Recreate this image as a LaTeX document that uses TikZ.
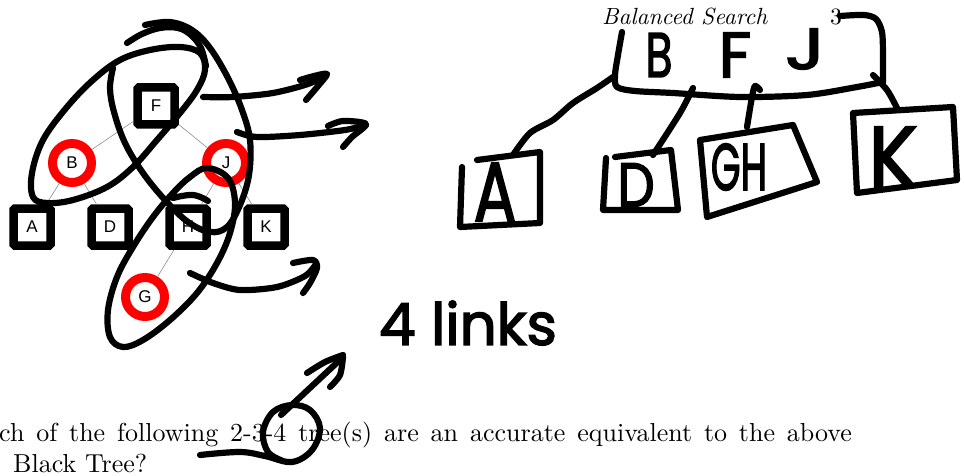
\documentclass[tikz,border=0pt]{standalone}
\usepackage{fontspec}
\usepackage{graphicx}
\newfontfamily\treefont{Liberation Sans}
\newfontfamily\handfont[FakeBold=2.5]{Poppins}
% handwritten marker letters: size, horizontal squeeze, text
\newcommand\markertext[3]{\fontsize{#1}{#1}\selectfont\scalebox{#2}[1]{#3}}
% page text: 10pt design size, enlarged
\newcommand\pagetext[2]{\scalebox{#1}{\fontsize{10}{12}\selectfont #2}}
\begin{document}
\begin{tikzpicture}[x=1pt,y=-1pt,
  rbblack/.style={draw=black, line width=8.5pt, fill=white, rounded corners=1.5pt,
    minimum size=37pt, inner sep=0pt, font=\treefont\fontsize{17}{17}\selectfont},
  rbred/.style={circle, draw=red, line width=9pt, fill=white,
    minimum size=39pt, inner sep=0pt, font=\treefont\fontsize{17}{17}\selectfont},
  treelink/.style={draw=black!45, line width=0.6pt},
  ink/.style={draw=black, line width=6.2pt, line cap=round, line join=round},
  marker/.style={inner sep=0pt, font=\handfont},
  bodytext/.style={inner sep=0pt, anchor=base west}
]
\useasboundingbox (0,0) rectangle (964,476);

% page text
\node[inner sep=0pt, anchor=base west] (head) at (602,25) {\pagetext{2.34}{\itshape Balanced Search}};
\node[inner sep=0pt, anchor=base west] (page) at (830,25) {\pagetext{2.34}{3}};
\node[bodytext] (q1) at (-1,441) {\pagetext{2.6}{\makebox[328pt][s]{ch of the following 2-3-4 tree(s) are an accurate equivalent to the above}}};
\node[bodytext] (q2) at (13,472) {\pagetext{2.6}{Black Tree?}};

% red-black tree
\node[rbblack] (F) at (156,106) {F};
\node[rbred]   (B) at (72,163)  {B};
\node[rbred]   (J) at (226,163) {J};
\node[rbblack] (A) at (32,227)  {A};
\node[rbblack] (D) at (110,227) {D};
\node[rbblack] (H) at (188,227) {H};
\node[rbblack] (K) at (266,227) {K};
\node[rbred]   (G) at (145,297) {G};
\draw[treelink] (F) -- (B);
\draw[treelink] (F) -- (J);
\draw[treelink] (B) -- (A);
\draw[treelink] (B) -- (D);
\draw[treelink] (J) -- (H);
\draw[treelink] (J) -- (K);
\draw[treelink] (H) -- (G);

% loop round B and F
\draw[ink] plot[smooth cycle, tension=0.6] coordinates {(33,197) (32,173) (43,140) (67,107) (93,80) (120,60) (150,50) (180,47) (200,53) (205,70) (197,90) (180,113) (157,140) (133,167) (107,187) (73,200) (47,203)};
% loop round F and J, down to H
\draw[ink] plot[smooth, tension=0.6] coordinates {(145,25) (170,22) (192,30) (210,48) (228,78) (242,110) (250,140) (249,175) (240,205) (227,227) (210,232) (188,222) (165,200) (143,173) (125,143) (114,112) (110,88) (113,68)};
\draw[ink] plot[smooth, tension=0.6] coordinates {(127,43) (142,34) (160,28) (178,28) (191,35) (201,48) (206,66)};
% loop round H and G
\draw[ink] plot[smooth cycle, tension=0.6] coordinates {(207,168) (228,178) (235,203) (230,233) (217,263) (197,293) (170,320) (143,340) (123,347) (110,337) (108,310) (117,277) (133,247) (153,217) (173,193) (190,177)};
\draw[ink] plot[smooth, tension=0.7] coordinates {(173,198) (193,195) (208,201)};

% three arrows to the right
\draw[ink] plot[smooth] coordinates {(203,97) (233,97) (273,93) (308,84) (326,75)};
\draw[ink] plot[smooth] coordinates {(300,80) (314,76) (327,74) (318,86) (306,100)};
\draw[ink] plot[smooth] coordinates {(237,132) (257,137) (300,135) (345,130) (366,125)};
\draw[ink] plot[smooth] coordinates {(328,126) (343,121) (366,124) (352,137) (343,147)};
\draw[ink] plot[smooth] coordinates {(190,273) (213,283) (240,290) (277,287) (305,276) (316,264)};
\draw[ink] plot[smooth] coordinates {(293,263) (313,260) (317,268) (310,283) (303,293)};

% 2-3-4 tree: top node
\draw[ink] plot[smooth, tension=0.5] coordinates {(622,32) (618,55) (615,75) (617,87) (635,91) (673,93) (740,97) (807,95) (857,87) (883,82)};
\draw[ink] plot[smooth, tension=0.5] coordinates {(883,82) (883,55) (882,32) (876,19) (864,15) (840,16)};
\node[marker] (tB) at (659,55) {\markertext{63}{0.7}{B}};
\node[marker] (tF) at (735,55) {\markertext{64}{1.0}{F}};
\node[marker] (tJ) at (805,49) {\markertext{58}{1.3}{J}};

% child links
\draw[ink] plot[smooth] coordinates {(613,77) (597,88) (573,103) (553,120) (530,133) (513,155)};
\draw[ink] plot[smooth] coordinates {(693,88) (680,113) (653,155)};
\draw[ink] plot[smooth] coordinates {(760,90) (755,86) (752,97) (747,127)};
\draw[ink] plot[smooth] coordinates {(873,75) (887,90) (897,108)};

% children
\draw[ink] (477,160) -- (540,152) -- (540,223) -- (460,227) -- (462,167);
\node[marker] (tA) at (495,192) {\markertext{84}{0.75}{A}};
\draw[ink] (615,157) -- (671,150) -- (678,210) -- (603,210) -- (606,158);
\node[marker] (tD) at (636,185) {\markertext{62}{0.85}{D}};
\draw[ink] (700,140) -- (793,125) -- (817,182) -- (707,217) -- cycle;
\node[marker] (tGH) at (739,167) {\markertext{66}{0.58}{GH}};
\draw[ink] (853,113) -- (953,107) -- (957,180) -- (857,193) -- cycle;
\node[marker] (tK) at (893,157) {\markertext{86}{0.95}{K}};

% note
\node[marker] (note) at (468,323) {\markertext{58}{1}{4 links}};
\draw[ink] plot[smooth, tension=0.6] coordinates {(200,455) (240,452) (265,456) (292,462) (312,450) (320,428) (310,410) (292,405) (273,412) (263,432) (268,452) (283,461)};
\draw[ink] (281,415) -- (343,357);
\draw[ink] plot[smooth] coordinates {(307,373) (325,362) (343,355)};
\draw[ink] plot[smooth] coordinates {(343,357) (340,375) (330,387)};
\end{tikzpicture}
\end{document}
